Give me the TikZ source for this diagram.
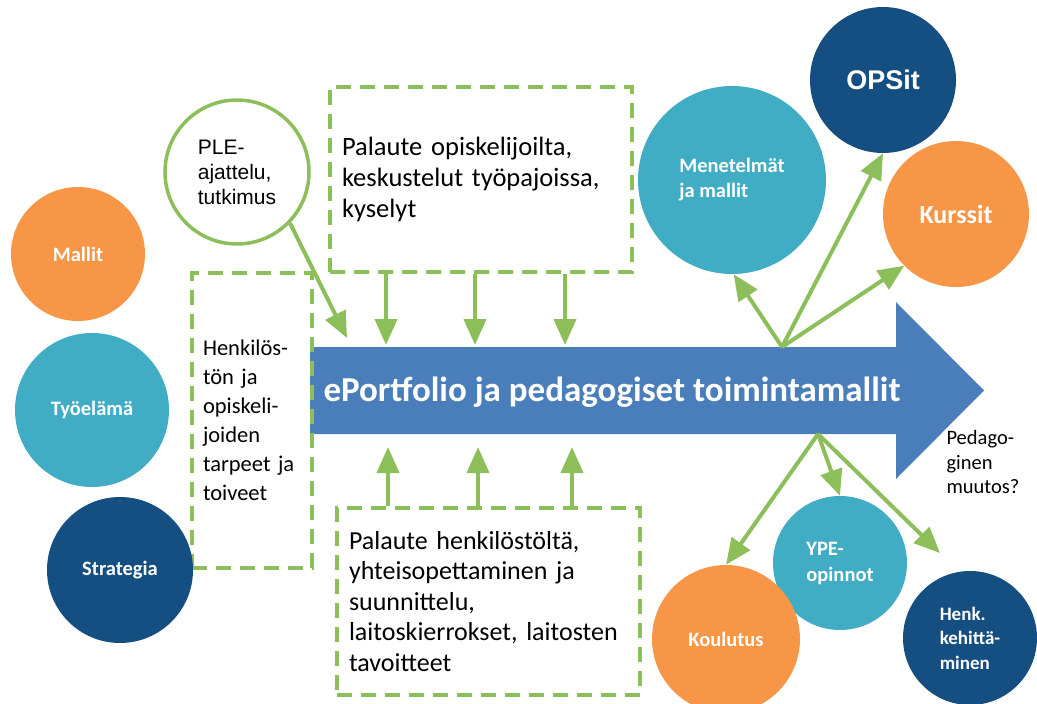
\documentclass[tikz,border=0pt]{standalone}
\usepackage{fontspec}
\setmainfont{Carlito}
\newfontfamily\arialf{Liberation Sans}
\usetikzlibrary{arrows.meta}
\definecolor{corange}{HTML}{F79646}
\definecolor{cteal}{HTML}{40ADC5}
\definecolor{cnavy}{HTML}{154E80}
\definecolor{cblue}{HTML}{4A7EBB}
\definecolor{cgreen}{HTML}{8CBE5A}
\tikzset{
  dot/.style={circle, inner sep=0pt, text=white, font=\bfseries\fontsize{20.5}{25}\selectfont, align=left},
  dashbox/.style={draw=cgreen, line width=4pt, dash pattern=on 15pt off 9pt, inner xsep=12pt, align=left},
  garrow/.style={draw=cgreen, line width=4pt, -{Triangle[length=26pt,width=22pt]}},
}
\begin{document}
\begin{tikzpicture}[x=1pt,y=-1pt]
\useasboundingbox (0,0) rectangle (1037,704);
% main arrow
\fill[cblue] (310,347) -- (896,347) -- (896,302) -- (984,390.5) -- (896,479) -- (896,434) -- (310,434) -- cycle;
\node[text=white, font=\bfseries\fontsize{35}{40}\selectfont] (mainlabel) at (612,392) {ePortfolio ja pedagogiset toimintamallit};
% dashed boxes
\node[dashbox, minimum width=302pt, minimum height=185pt, text width=278pt, font=\fontsize{26.5}{31}\selectfont] (topbox) at (481,179.5) {Palaute opiskelijoilta,\\keskustelut työpajoissa,\\kyselyt};
\node[dashbox, minimum width=120pt, minimum height=295pt, text width=98pt, inner xsep=11pt, font=\fontsize{22.5}{29}\selectfont] (leftbox) at (252,420.5) {Henkilös-\\tön ja\\opiskeli-\\joiden\\tarpeet ja\\toiveet};
\node[dashbox, minimum width=303pt, minimum height=187pt, text width=279pt, font=\fontsize{26}{30.5}\selectfont] (botbox) at (488.5,601.5) {Palaute henkilöstöltä,\\yhteisopettaminen ja\\suunnittelu,\\laitoskierrokset, laitosten\\tavoitteet};
% PLE circle
\node[circle, draw=cgreen, line width=3.5pt, fill=white, minimum size=144pt, inner sep=0pt, align=left, font=\arialf\fontsize{21}{25}\selectfont] (ple) at (237,172) {PLE-\\ajattelu,\\tutkimus};
% left circles
\node[dot, fill=corange, minimum size=134pt] (mallit) at (78,254) {Mallit};
\node[dot, fill=cteal, minimum size=154pt] (tyoelama) at (92,410) {Työelämä};
\node[dot, fill=cnavy, minimum size=146pt] (strategia) at (120,570) {Strategia};
% right circles
\node[dot, fill=cteal, minimum size=188pt] (menetelmat) at (732,180) {Menetelmät\\ja mallit};
\node[dot, fill=cnavy, minimum size=146pt, font=\arialf\bfseries\fontsize{27}{30}\selectfont] (opsit) at (883,80) {OPSit};
\node[dot, fill=corange, minimum size=146pt, font=\bfseries\fontsize{26}{30}\selectfont] (kurssit) at (956,214) {Kurssit};
\node[dot, fill=cteal, minimum size=134pt, font=\bfseries\fontsize{20.5}{26}\selectfont] (ype) at (840,563) {YPE-\\opinnot};
\node[dot, fill=corange, minimum size=148pt] (koulutus) at (726,639) {Koulutus};
\node[dot, fill=cnavy, minimum size=134pt, font=\bfseries\fontsize{19}{24.5}\selectfont] (henk) at (970,638) {Henk.\\kehittä-\\minen};
\node[align=left, anchor=west, font=\fontsize{20.5}{24.5}\selectfont] (pedago) at (943,462) {Pedago-\\ginen\\muutos?};
% coordinates
\coordinate (fanT) at (782,347);
\coordinate (fanB) at (818,434);
\coordinate (henkend) at (940,553);
\coordinate (pleend) at (347,338);
\coordinate (d1) at (386,345);
\coordinate (d2) at (475,345);
\coordinate (d3) at (565,345);
\coordinate (u1) at (388,447);
\coordinate (u2) at (478,447);
\coordinate (u3) at (572,447);
% connectors
\draw[garrow] (ple.-44) -- (pleend);
\draw[garrow] (topbox.south -| d1) -- (d1);
\draw[garrow] (topbox.south -| d2) -- (d2);
\draw[garrow] (topbox.south -| d3) -- (d3);
\draw[garrow] (botbox.north -| u1) -- (u1);
\draw[garrow] (botbox.north -| u2) -- (u2);
\draw[garrow] (botbox.north -| u3) -- (u3);
\draw[garrow] (fanT) -- (menetelmat.-89);
\draw[garrow] (fanT) -- (opsit.south);
\draw[garrow] (fanT) -- (kurssit.225);
\draw[garrow] (fanB) -- (koulutus.north);
\draw[garrow] (fanB) -- (ype.north);
\draw[garrow] (fanB) -- (henkend);
\end{tikzpicture}
\end{document}
